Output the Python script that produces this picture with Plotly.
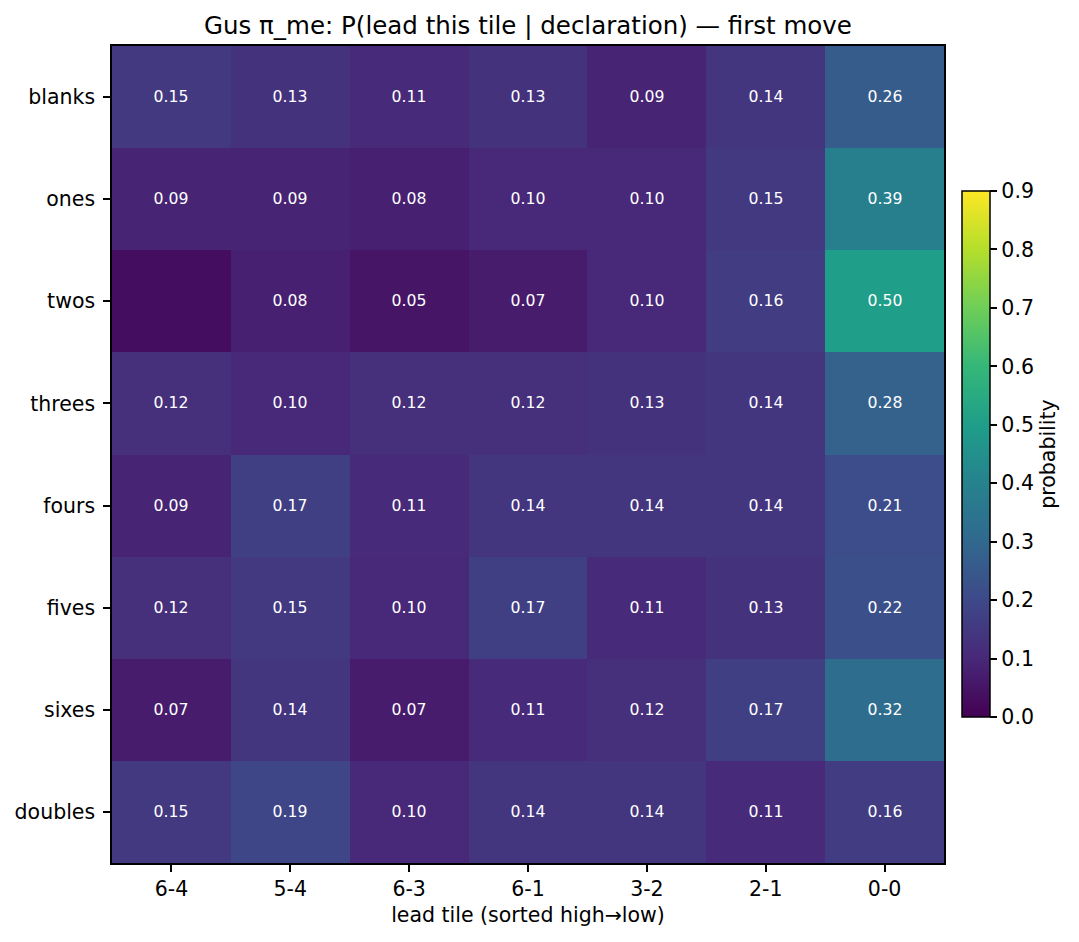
import plotly.graph_objects as go

# rows = declaration, columns = lead tile (sorted high -> low)
declarations = ["blanks", "ones", "twos", "threes", "fours", "fives", "sixes", "doubles"]
lead_tiles = ["6-4", "5-4", "6-3", "6-1", "3-2", "2-1", "0-0"]

blanks = [0.15, 0.13, 0.11, 0.13, 0.09, 0.14, 0.26]
ones = [0.09, 0.09, 0.08, 0.10, 0.10, 0.15, 0.39]
twos = [0.03, 0.08, 0.05, 0.07, 0.10, 0.16, 0.50]
threes = [0.12, 0.10, 0.12, 0.12, 0.13, 0.14, 0.28]
fours = [0.09, 0.17, 0.11, 0.14, 0.14, 0.14, 0.21]
fives = [0.12, 0.15, 0.10, 0.17, 0.11, 0.13, 0.22]
sixes = [0.07, 0.14, 0.07, 0.11, 0.12, 0.17, 0.32]
doubles = [0.15, 0.19, 0.10, 0.14, 0.14, 0.11, 0.16]

z = [blanks, ones, twos, threes, fours, fives, sixes, doubles]
# tiny probabilities were left unlabelled in the original
labels = [[f"{v:.2f}" if v >= 0.045 else "" for v in row] for row in z]

FONT = "DejaVu Sans"
PAGE = 8  # default body margin of the html page
W, H = 1079 - PAGE, 942 - PAGE
L, R, T, B = 112 - PAGE, 944 - PAGE, 46 - PAGE, 863 - PAGE
CB_X, CB_MID = 962 - PAGE, 454 - PAGE

fig = go.Figure(
    go.Heatmap(
        z=z,
        x=lead_tiles,
        y=declarations,
        text=labels,
        texttemplate="%{text}",
        textfont=dict(family=FONT, size=15.7, color="white"),
        colorscale="Viridis",
        zmin=0,
        zmax=0.9,
        colorbar=dict(
            title=dict(text="probability", side="right", font=dict(family=FONT, size=20.5, color="black")),
            x=(CB_X - L) / (R - L),
            xanchor="left",
            y=(B - CB_MID) / (B - T),
            yanchor="middle",
            len=526,
            lenmode="pixels",
            thickness=28,
            thicknessmode="pixels",
            xpad=0,
            ypad=0,
            outlinecolor="black",
            outlinewidth=1.5,
            ticks="outside",
            ticklen=7,
            tickwidth=1.5,
            tickcolor="black",
            tickvals=[0, 0.1, 0.2, 0.3, 0.4, 0.5, 0.6, 0.7, 0.8, 0.9],
            ticktext=["0.0", "0.1", "0.2", "0.3", "0.4", "0.5", "0.6", "0.7", "0.8", "0.9"],
            tickfont=dict(family=FONT, size=20.5, color="black"),
        ),
    )
)

fig.update_layout(
    width=W,
    height=H,
    paper_bgcolor="white",
    plot_bgcolor="white",
    margin=dict(l=L, r=W - R, t=T, b=H - B, autoexpand=False),
    font=dict(family=FONT, color="black"),
    title=dict(
        text="Gus π_me: P(lead this tile | declaration) — first move",
        x=0.5,
        xref="paper",
        xanchor="center",
        y=1 - (25 - PAGE) / H,
        yref="container",
        yanchor="middle",
        font=dict(family=FONT, size=24.5, color="black"),
    ),
    xaxis=dict(
        title=dict(text="lead tile (sorted high→low)", font=dict(family=FONT, size=20.5), standoff=7),
        tickfont=dict(family=FONT, size=20.5),
        showline=True,
        linecolor="black",
        linewidth=1.5,
        mirror=True,
        ticks="outside",
        ticklen=7,
        tickwidth=1.5,
        tickcolor="black",
        showgrid=False,
        zeroline=False,
    ),
    yaxis=dict(
        autorange="reversed",
        tickfont=dict(family=FONT, size=20.5),
        ticklabelstandoff=4,
        showline=True,
        linecolor="black",
        linewidth=1.5,
        mirror=True,
        ticks="outside",
        ticklen=7,
        tickwidth=1.5,
        tickcolor="black",
        showgrid=False,
        zeroline=False,
    ),
)

fig.write_html("out.html")
